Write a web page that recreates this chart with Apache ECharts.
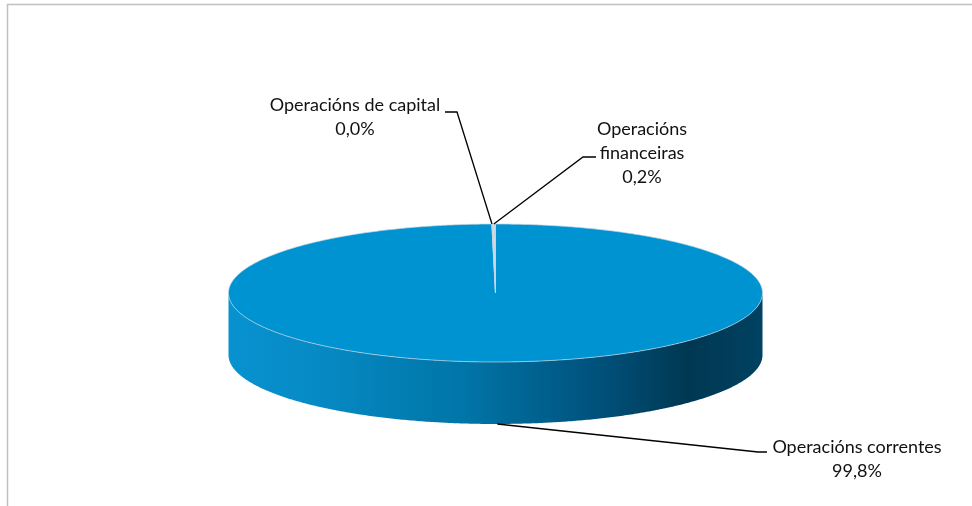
<!DOCTYPE html>
<html>
<head>
<meta charset="utf-8">
<script src="https://cdn.jsdelivr.net/npm/echarts@6/dist/echarts.min.js"></script>
<style>
html,body{margin:0;padding:0;background:#fff;}
#chart{width:972px;height:506px;}
</style>
</head>
<body>
<div id="chart"></div>
<script>
// ---- data ----
const categories = ['Operacións correntes', 'Operacións de capital', 'Operacións financeiras'];
const labelLines = ['Operacións correntes', 'Operacións de capital', 'Operacións\nfinanceiras'];
const shares = [99.78, 0.02, 0.20];

// ---- styles / layout ----
const topColors = ['#0093d1', '#c0cad2', '#cfd8df'];
const sideStops = [
  {offset: 0, color: '#0792d0'},
  {offset: 0.15, color: '#078bc6'},
  {offset: 0.45, color: '#0074a6'},
  {offset: 0.7, color: '#00507a'},
  {offset: 0.86, color: '#003852'},
  {offset: 1, color: '#004262'}
];
const geo = {cx: 495.5, cy: 293, rx: 267, ry: 69, depth: 62};
// label elbow, leader end, text centre
const labelLayout = [
  {elbow: [758, 452], end: [767, 452], text: [857, 459]},
  {elbow: [457, 112], end: [445, 112], text: [355, 117]},
  {elbow: [583, 157], end: [596, 157], text: [642, 153]}
];
const FONT = 'Lato, "Noto Sans", sans-serif';

const total = shares.reduce((a, b) => a + b, 0);
const starts = [];
let acc = 0;
shares.forEach(v => { starts.push(acc / total * Math.PI * 2); acc += v; });

function pt(t, dy) {
  return [geo.cx + geo.rx * Math.sin(t), geo.cy - geo.ry * Math.cos(t) + (dy || 0)];
}
function arc(a, b, dy) {
  const pts = [];
  const n = Math.max(2, Math.ceil(Math.abs(b - a) / (Math.PI / 360)));
  for (let i = 0; i <= n; i++) pts.push(pt(a + (b - a) * i / n, dy));
  return pts;
}
function fmt(v) {
  return (v / total * 100).toFixed(1).replace('.', ',') + '%';
}

function renderItem(params, api) {
  const i = params.dataIndex;
  const a = starts[i];
  const b = a + api.value(0) / total * Math.PI * 2;
  const children = [];
  // side wall (front half only)
  const fa = Math.max(a, Math.PI / 2), fb = Math.min(b, Math.PI * 1.5);
  if (fb > fa) {
    const pts = arc(fa, fb, 0).concat(arc(fb, fa, geo.depth));
    children.push({
      type: 'polygon',
      shape: {points: pts},
      style: {
        fill: {type: 'linear', x: geo.cx - geo.rx, y: 0, x2: geo.cx + geo.rx, y2: 0, global: true, colorStops: sideStops},
        stroke: 'rgba(0,0,0,0)'
      },
      z2: 1
    });
  }
  // top face
  const topPts = [[geo.cx, geo.cy]].concat(arc(a, b, 0));
  children.push({
    type: 'polygon',
    shape: {points: topPts},
    style: {fill: topColors[i], stroke: '#c5d6e2', lineWidth: 0.7, lineJoin: 'round'},
    z2: 2
  });
  // leader line
  const mid = (a + b) / 2;
  const front = Math.cos(mid) < 0;
  const start = pt(mid, front ? geo.depth : 0);
  const L = labelLayout[i];
  children.push({
    type: 'polyline',
    shape: {points: [start, L.elbow, L.end]},
    style: {stroke: '#000', lineWidth: 1.3, fill: null},
    z2: 5
  });
  children.push({
    type: 'text',
    style: {
      x: L.text[0], y: L.text[1],
      text: labelLines[i] + '\n' + fmt(api.value(0)),
      align: 'center', verticalAlign: 'middle',
      font: '18px ' + FONT, lineHeight: 24, fill: '#111'
    },
    z2: 6
  });
  return {type: 'group', children: children};
}

const chart = echarts.init(document.getElementById('chart'), null, {renderer: 'canvas'});
chart.setOption({
  animation: false,
  backgroundColor: '#ffffff',
  graphic: [{
    type: 'polyline',
    shape: {points: [[7.5, 520], [7.5, 4.5], [980, 4.5]]},
    style: {stroke: '#c0c0c0', lineWidth: 1.5, fill: null}
  }],
  series: [{
    type: 'custom',
    coordinateSystem: 'none',
    renderItem: renderItem,
    data: shares.map((v, i) => ({name: categories[i], value: [v]}))
  }]
});
</script>
</body>
</html>
